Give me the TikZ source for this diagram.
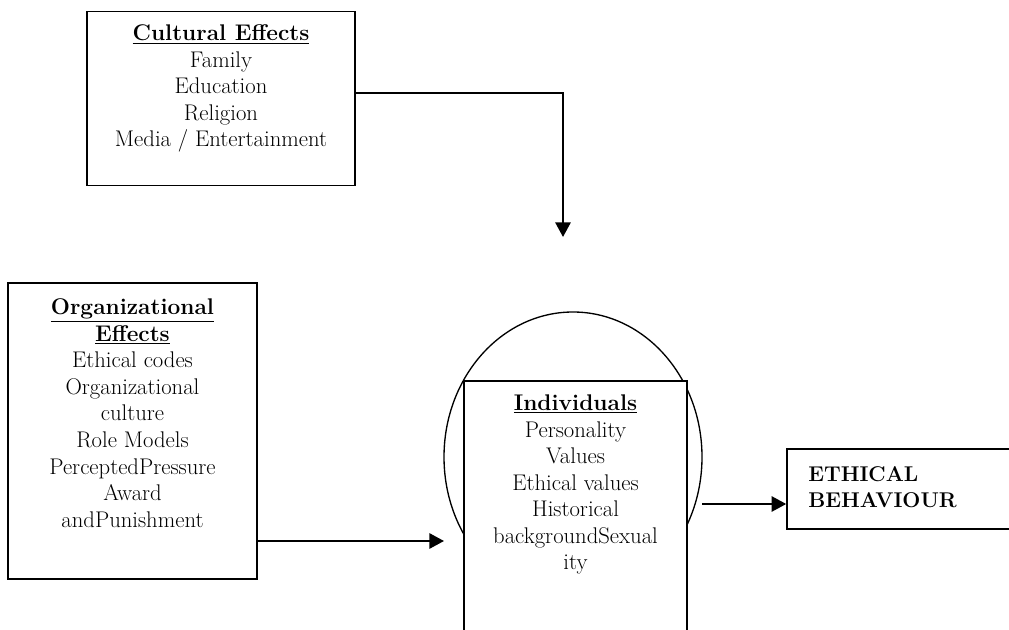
\documentclass[tikz,border=0pt]{standalone}
\usetikzlibrary{positioning,arrows.meta}

\tikzset{every picture/.style={line width=1.2pt}}
\tikzset{
  box/.style={draw, line width=1.2pt, fill=white, inner sep=0pt},
  lbl/.style={align=center, inner sep=0pt, font=\fontsize{17}{19.9}\selectfont},
  arr/.style={line width=1.5pt, -{Triangle[length=11pt,width=11.5pt]}}
}
\newcommand{\head}[1]{\underline{\textbf{#1}}}

\begin{document}
\begin{tikzpicture}[x=0.75pt,y=0.75pt,yscale=-1,xscale=1]
\useasboundingbox (0,0) rectangle (1009,630);
\clip (0,0) rectangle (1009,630);

%Oval behind the individuals box
\draw [line width=1pt] (573,457) ellipse [x radius=129, y radius=145];

%Boxes
\node [box, minimum width=201pt, minimum height=130.5pt] (cult) at (221,98.5) {};
\node [box, minimum width=186.75pt, minimum height=222pt] (org) at (132.5,431) {};
\node [box, minimum width=167.25pt, minimum height=209.25pt] (ind) at (575.5,520.5) {};
\node [box, minimum width=171pt, minimum height=60pt] (eth) at (901,489) {};

% Text Node
\node [lbl, below=10pt of cult.north] (cultTxt) {\head{Cultural Effects}\\Family\\Education\\Religion\\Media / Entertainment};
% Text Node
\node [lbl, below=12pt of org.north] (orgTxt) {\head{Organizational}\\\head{Effects}\\Ethical codes\\Organizational\\culture\\Role Models\\PerceptedPressure\\Award\\andPunishment};
% Text Node
\node [lbl, below=10.5pt of ind.north] (indTxt) {\head{Individuals}\\Personality\\Values\\Ethical values\\Historical\\backgroundSexual\\ity};
% Text Node
\node [lbl, align=left, anchor=north west, font=\fontsize{16}{19.5}\selectfont\bfseries] (ethTxt) at ([xshift=16pt,yshift=13pt]eth.north west) {ETHICAL\\BEHAVIOUR};

%Connectors
\coordinate (drop) at (563,237);
\coordinate (indIn) at (444,541);
\coordinate (indOut) at (702,504);
\draw [arr] ([yshift=-4pt]cult.east) -| (drop);
\draw [arr] (org.east |- indIn) -- (indIn);
\draw [arr] (indOut) -- (indOut -| eth.west);

\end{tikzpicture}
\end{document}
